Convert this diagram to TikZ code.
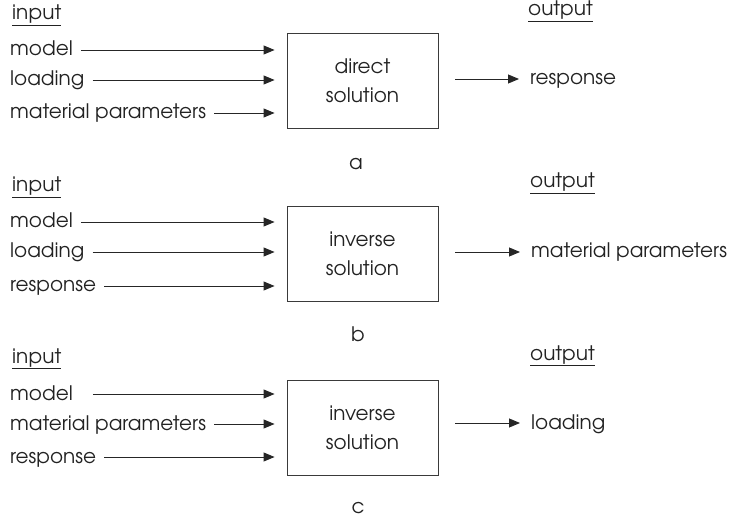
\documentclass[tikz,border=0pt]{standalone}
\usepackage{fontspec}
\setmainfont{texgyreadventor-regular.otf}
\usetikzlibrary{arrows.meta, positioning}
\definecolor{inkgray}{HTML}{222222}
\definecolor{boxgray}{HTML}{3A3A3A}

\begin{document}
\begin{tikzpicture}[x=1pt, y=-1pt, font=\fontsize{20}{29}\selectfont, text=inkgray,
    lbl/.style={anchor=base west, inner sep=0pt},
    sublbl/.style={anchor=base, inner sep=0pt},
    solbox/.style={draw=boxgray, line width=0.9pt, minimum width=151pt, minimum height=95pt, align=center, inner sep=0pt},
    feed/.style={draw=black!85, line width=0.9pt, -{Triangle[length=11pt, width=9pt]}, shorten >=12pt, shorten <=8pt}]
  \useasboundingbox (0,0) rectangle (730,518);

  % a: direct solution
  \node[solbox] (boxa) at (362.5,80.5) {direct\\solution};
  \node[lbl] (ina) at (12,20) {\underline{input}};
  \node[lbl] (outa) at (528,16) {\underline{output}};
  \node[lbl] (moda) at (10,56) {model};
  \node[lbl] (loada) at (10,86) {loading};
  \node[lbl] (mata) at (10,119) {material parameters};
  \node[lbl] (resa) at (530,85) {response};
  \node[sublbl] (suba) at (356,170) {a};
  \draw[feed] ([yshift=6pt]moda.base east) -- ([yshift=6pt]moda.base east -| boxa.west);
  \draw[feed] ([yshift=6pt]loada.base east) -- ([yshift=6pt]loada.base east -| boxa.west);
  \draw[feed] ([yshift=6pt]mata.base east) -- ([yshift=6pt]mata.base east -| boxa.west);
  \draw[feed, shorten <=17pt, shorten >=11pt] ([yshift=6pt]resa.base west -| boxa.east) -- ([yshift=6pt]resa.base west);

  % b: inverse solution, parameters out
  \node[solbox] (boxb) at (362.5,254) {inverse\\solution};
  \node[lbl] (inb) at (12,192) {\underline{input}};
  \node[lbl] (outb) at (530,188) {\underline{output}};
  \node[lbl] (modb) at (10,228) {model};
  \node[lbl] (loadb) at (10,258) {loading};
  \node[lbl] (resb) at (10,292) {response};
  \node[lbl] (matb) at (531,258) {material parameters};
  \node[sublbl] (subb) at (358,341) {b};
  \draw[feed] ([yshift=6pt]modb.base east) -- ([yshift=6pt]modb.base east -| boxb.west);
  \draw[feed] ([yshift=6pt]loadb.base east) -- ([yshift=6pt]loadb.base east -| boxb.west);
  \draw[feed] ([yshift=6pt]resb.base east) -- ([yshift=6pt]resb.base east -| boxb.west);
  \draw[feed, shorten <=17pt, shorten >=11pt] ([yshift=6pt]matb.base west -| boxb.east) -- ([yshift=6pt]matb.base west);

  % c: inverse solution, loading out
  \node[solbox] (boxc) at (362.5,427.5) {inverse\\solution};
  \node[lbl] (inc) at (12,363) {\underline{input}};
  \node[lbl] (outc) at (530,360) {\underline{output}};
  \node[lbl] (modc) at (10,400) {model};
  \node[lbl] (matc) at (10,430) {material parameters};
  \node[lbl] (resc) at (10,463) {response};
  \node[lbl] (loadc) at (531,429) {loading};
  \node[sublbl] (subc) at (358,513) {c};
  \draw[feed, shorten <=20pt] ([yshift=6pt]modc.base east) -- ([yshift=6pt]modc.base east -| boxc.west);
  \draw[feed] ([yshift=6pt]matc.base east) -- ([yshift=6pt]matc.base east -| boxc.west);
  \draw[feed] ([yshift=6pt]resc.base east) -- ([yshift=6pt]resc.base east -| boxc.west);
  \draw[feed, shorten <=17pt, shorten >=11pt] ([yshift=6pt]loadc.base west -| boxc.east) -- ([yshift=6pt]loadc.base west);
\end{tikzpicture}
\end{document}
